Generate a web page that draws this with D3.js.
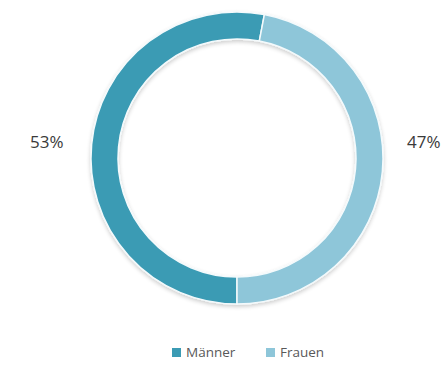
<!DOCTYPE html>
<html>
<head>
<meta charset="utf-8">
<script src="https://cdn.jsdelivr.net/npm/d3@7"></script>
<style>
  html, body { margin: 0; padding: 0; background: #ffffff; }
  svg { display: block; }
</style>
</head>
<body>
<svg id="chart" width="445" height="372"></svg>
<script>
// Gender split, in percent
const categories = ["Männer", "Frauen"];
const values = [53, 47];
const valueLabels = ["53%", "47%"];
const colors = ["#3b9bb4", "#8ec6d9"];

const svg = d3.select("#chart");
const cx = 237, cy = 158;
const outerR = 146, innerR = 119;

const defs = svg.append("defs");
// radial shading giving the ring a slight bevel
categories.forEach((c, i) => {
  const base = d3.color(colors[i]);
  const g = defs.append("radialGradient")
    .attr("id", "shade" + i)
    .attr("gradientUnits", "userSpaceOnUse")
    .attr("cx", cx).attr("cy", cy).attr("r", outerR);
  g.append("stop").attr("offset", innerR / outerR).attr("stop-color", base.brighter(0.3));
  g.append("stop").attr("offset", (innerR + 5) / outerR).attr("stop-color", base);
  g.append("stop").attr("offset", 1).attr("stop-color", base);
});
const shadow = defs.append("filter").attr("id", "soft")
  .attr("x", "-10%").attr("y", "-10%").attr("width", "120%").attr("height", "120%");
shadow.append("feGaussianBlur").attr("in", "SourceAlpha").attr("stdDeviation", 2).attr("result", "b");
shadow.append("feOffset").attr("in", "b").attr("dy", 1.5).attr("result", "o");
shadow.append("feComponentTransfer").attr("in", "o").attr("result", "s")
  .append("feFuncA").attr("type", "linear").attr("slope", 0.2);
const merge = shadow.append("feMerge");
merge.append("feMergeNode").attr("in", "s");
merge.append("feMergeNode").attr("in", "SourceGraphic");

const arc = d3.arc().innerRadius(innerR).outerRadius(outerR);

// pie starting at 6 o'clock: Männer sweeps the left side, Frauen the right
const arcs = d3.pie().sort(null).value(i => values[i])
  .startAngle(Math.PI)
  .endAngle(3 * Math.PI)(d3.range(categories.length));

const ring = svg.append("g")
  .attr("transform", `translate(${cx},${cy})`)
  .attr("filter", "url(#soft)");

ring.selectAll("path")
  .data(arcs)
  .join("path")
  .attr("d", arc)
  .attr("fill", d => `url(#shade${d.data})`)
  .attr("stroke", "#f4fafc")
  .attr("stroke-width", 1.5);

// percentage labels beside the ring
const labelX = [30, 407];
svg.selectAll("text.pct")
  .data(valueLabels)
  .join("text")
  .attr("class", "pct")
  .attr("x", (d, i) => labelX[i]).attr("y", 148)
  .attr("font-family", "'Open Sans', sans-serif")
  .attr("font-size", 17)
  .attr("fill", "#3a3a3a")
  .text(d => d);

// legend
const legendX = [172, 266];
const legend = svg.append("g");
categories.forEach((c, i) => {
  legend.append("rect")
    .attr("x", legendX[i]).attr("y", 348)
    .attr("width", 9).attr("height", 9)
    .attr("fill", colors[i]);
  legend.append("text")
    .attr("x", legendX[i] + 14).attr("y", 357)
    .attr("font-family", "'Open Sans', sans-serif")
    .attr("font-size", 13.5)
    .attr("fill", "#595959")
    .text(c);
});
</script>
</body>
</html>
